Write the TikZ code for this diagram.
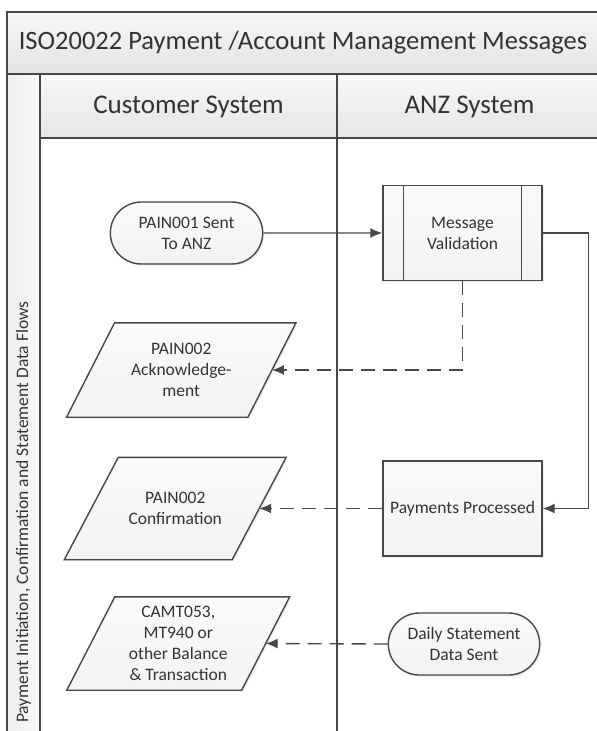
\documentclass[tikz,border=0pt]{standalone}
\usepackage{fontspec}
\setmainfont{Carlito}
\usetikzlibrary{shapes.misc,arrows.meta,shadows,backgrounds}
\definecolor{linegray}{HTML}{474747}
\definecolor{textgray}{HTML}{333333}
\tikzset{
    band/.style = {draw=linegray, line width=1.2pt},
    conn/.style = {draw=linegray, line width=1.4pt},
    dashconn/.style = {conn, dash pattern=on 14pt off 8pt},
    boxfill/.style = {draw=linegray, line width=1.4pt, top color=gray!4, bottom color=gray!10,
        drop shadow={shadow xshift=1.5pt, shadow yshift=-1.5pt, fill=black, opacity=0.08}},
    terminal/.style = {boxfill, rounded rectangle, minimum width=159pt, minimum height=62pt, align=center},
    process/.style = {boxfill, rectangle, minimum width=159pt, minimum height=95pt, align=center},
    datashape/.style = {rectangle, inner sep=0pt, align=center}
}

\begin{document}
\begin{tikzpicture}[x=1pt, y=-1pt, >={Latex[length=12pt,width=10pt]}, text=textgray,
    font=\fontsize{17.5}{21}\selectfont]
    \clip (0,0) rectangle (597,731);
    % pool and lanes
    \fill[top color=white!97!black, bottom color=white!89!black] (7,12) rectangle (602,74);
    \fill[top color=white!97!black, bottom color=white!90!black] (40,74) rectangle (602,138);
    \fill[left color=gray!14, right color=gray!5] (7,74) rectangle (40,740);
    \draw[band] (602,12) -- (7,12) -- (7,740);
    \draw[band] (7,74) -- (602,74);
    \draw[band] (40,138) -- (602,138);
    \draw[band] (40,74) -- (40,740);
    \draw[band] (337,74) -- (337,740);

    \node (title) at (303,43) {\fontsize{26.5}{32}\selectfont ISO20022 Payment /Account Management Messages};
    \node (custhead) at (188.5,107) {\fontsize{27}{32}\selectfont Customer System};
    \node (anzhead) at (469.5,107) {\fontsize{27}{32}\selectfont ANZ System};
    \node[rotate=90] (lanelabel) at (23.5,512) {\fontsize{17.5}{21}\selectfont Payment Initiation, Confirmation and Statement Data Flows};

    % shapes
    \node[terminal] (pain1) at (186.5,233) {PAIN001 Sent\\To ANZ};
    \node[process] (msgval) at (462.5,233) {Message\\Validation};
    \node[datashape, minimum width=181pt, minimum height=94pt] (ack) at (181.25,370) {PAIN002\\Acknowledge-\\ment};
    \node[datashape, minimum width=167.5pt, minimum height=102pt] (conf) at (175.25,508.5) {PAIN002\\Confirmation};
    \node[datashape, minimum width=174.5pt, minimum height=93pt] (camt) at (178.25,643.5) {CAMT053,\\MT940 or\\other Balance\\\& Transaction};
    \node[process] (paid) at (462.5,508.5) {Payments Processed};
    \node[terminal, minimum width=158pt] (stmt) at (464,644) {Daily Statement\\Data Sent};

    \begin{scope}[on background layer]
        \foreach \n/\e in {ack/24, conf/27, camt/24}
            \draw[boxfill] ([xshift=-\e]\n.south west) -- ([xshift=\e]\n.north west)
                -- ([xshift=\e]\n.north east) -- ([xshift=-\e]\n.south east) -- cycle;
    \end{scope}

    \draw[conn] ([xshift=21pt]msgval.north west) -- ([xshift=21pt]msgval.south west);
    \draw[conn] ([xshift=-21pt]msgval.north east) -- ([xshift=-21pt]msgval.south east);

    % flows
    \draw[conn,->] (pain1) -- (msgval);
    \draw[dashconn,->] (msgval.south) |- (ack.east);
    \draw[conn,->] (msgval.east) -- ++(46,0) |- (paid.east);
    \draw[dashconn,->] (paid.west) -- (conf.east);
    \draw[dashconn,->] (stmt.west) -- (camt.east);

\end{tikzpicture}
\end{document}
